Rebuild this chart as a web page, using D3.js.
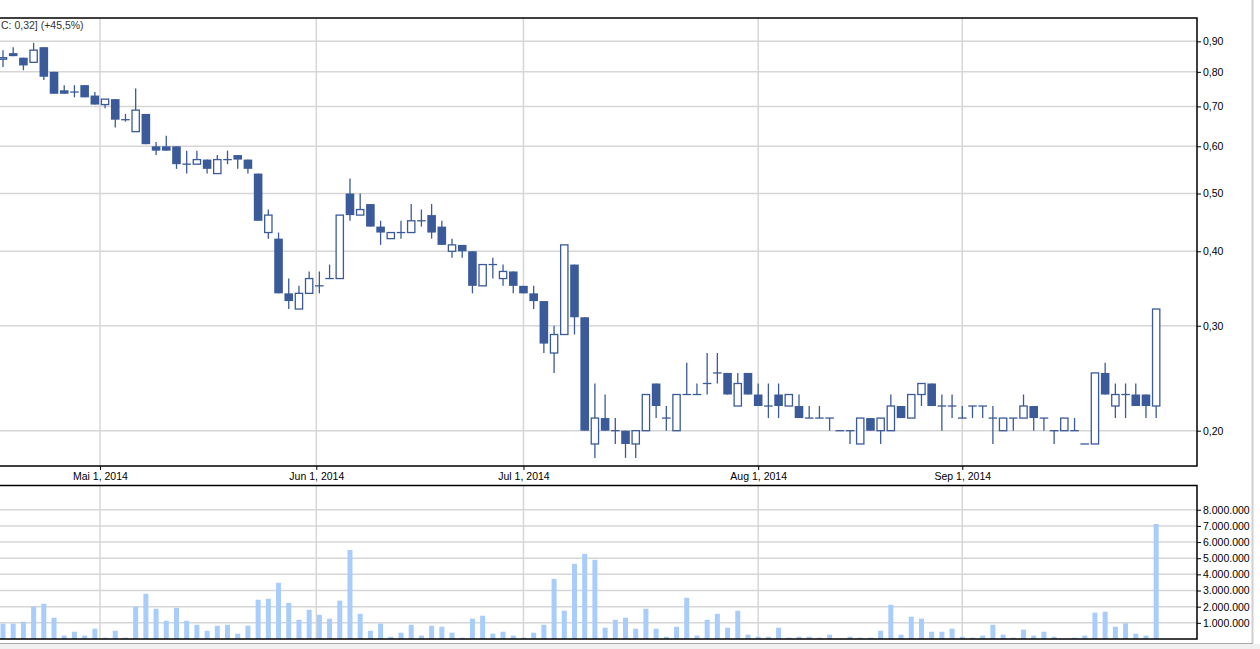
<!DOCTYPE html>
<html><head><meta charset="utf-8">
<script src="https://cdn.jsdelivr.net/npm/d3@7"></script>
<style>html,body{margin:0;padding:0;background:#fff;overflow:hidden}</style>
</head><body>
<svg id="chart" width="1260" height="649"></svg>
<script>
// ---- data (trading-day index 0..113) ----
const openP = [.84,.86,.845,.83,.88,.80,.745,.74,.76,.73,
 .705,.72,.665,.635,.68,.60,.60,.60,.56,.56,
 .57,.54,.57,.58,.57,.54,.43,.42,.34,.32,
 .34,.35,.36,.36,.50,.46,.48,.44,.42,.43,
 .43,.45,.46,.44,.40,.41,.40,.35,.38,.36,
 .37,.35,.34,.33,.27,.29,.38,.31,.19,.21,
 .20,.20,.19,.20,.24,.21,.20,.23,.23,.24,
 .25,.25,.22,.25,.23,.22,.23,.22,.22,.21,
 .21,.21,.20,.20,.19,.21,.20,.20,.22,.21,
 .23,.24,.22,.22,.21,.22,.22,.21,.20,.21,
 .21,.22,.21,.20,.20,.20,.19,.19,.25,.22,
 .23,.23,.23,.22];
const highP = [.87,.88,.845,.895,.88,.80,.76,.76,.76,.74,
 .72,.72,.68,.75,.68,.61,.625,.60,.59,.59,
 .57,.58,.59,.58,.57,.54,.47,.43,.36,.35,
 .37,.37,.38,.46,.53,.50,.48,.45,.43,.45,
 .48,.47,.48,.45,.42,.41,.40,.38,.39,.38,
 .37,.35,.35,.33,.30,.41,.38,.31,.24,.23,
 .21,.20,.20,.23,.24,.22,.23,.26,.24,.27,
 .27,.25,.25,.25,.24,.24,.24,.23,.23,.22,
 .22,.21,.20,.20,.21,.21,.21,.23,.22,.23,
 .24,.24,.23,.23,.22,.22,.22,.22,.21,.21,
 .23,.22,.21,.20,.21,.21,.19,.25,.26,.24,
 .24,.24,.23,.32];
const lowP = [.815,.85,.805,.83,.775,.735,.735,.725,.725,.705,
 .695,.645,.66,.635,.605,.58,.59,.55,.54,.56,
 .54,.54,.56,.55,.54,.45,.42,.34,.32,.32,
 .34,.34,.36,.36,.45,.46,.44,.41,.42,.42,
 .43,.44,.42,.41,.39,.39,.34,.35,.36,.35,
 .34,.34,.32,.27,.25,.29,.29,.20,.18,.20,
 .19,.18,.18,.20,.21,.20,.20,.23,.23,.23,
 .24,.23,.22,.23,.22,.21,.21,.22,.21,.21,
 .21,.20,.20,.19,.19,.20,.19,.20,.21,.21,
 .22,.22,.20,.21,.21,.21,.21,.19,.20,.20,
 .21,.20,.20,.19,.20,.20,.19,.19,.23,.21,
 .21,.22,.21,.21];
const closeP = [.845,.85,.82,.87,.785,.735,.735,.74,.725,.705,
 .72,.665,.665,.69,.605,.59,.59,.56,.56,.57,
 .55,.57,.57,.57,.55,.45,.46,.34,.33,.34,
 .36,.35,.36,.46,.46,.47,.44,.43,.43,.43,
 .45,.45,.43,.41,.41,.40,.35,.38,.38,.37,
 .35,.34,.33,.28,.29,.41,.31,.20,.21,.20,
 .20,.19,.20,.23,.22,.21,.23,.23,.23,.24,
 .25,.23,.24,.23,.22,.22,.22,.23,.21,.21,
 .21,.21,.20,.20,.21,.20,.21,.22,.21,.23,
 .24,.22,.22,.22,.21,.22,.22,.21,.21,.21,
 .22,.21,.21,.20,.21,.20,.19,.25,.23,.23,
 .23,.22,.22,.32];
const volumeM = [0.95,0.95,1.07,2.0,2.18,1.32,0.21,0.45,0.21,0.64,
 0.08,0.51,0.08,2.0,2.8,1.87,1.13,1.93,1.13,0.88,
 0.51,0.82,0.88,0.33,0.82,2.43,2.49,3.48,2.24,1.19,
 1.81,1.50,1.26,2.37,5.51,1.56,0.51,0.95,0.14,0.39,
 0.88,0.21,0.82,0.76,0.39,0.08,1.26,1.44,0.33,0.45,
 0.21,0.08,0.39,0.88,3.72,1.75,4.65,5.27,4.90,0.70,
 1.19,1.32,0.64,1.87,0.64,0.14,0.76,2.55,0.21,1.19,
 1.56,0.70,1.75,0.27,0.14,0.14,0.70,0.08,0.14,0.14,
 0.08,0.27,0.03,0.14,0.08,0.08,0.51,2.12,0.27,1.38,
 1.26,0.45,0.45,0.64,0.14,0.08,0.21,0.88,0.27,0.08,
 0.58,0.21,0.45,0.14,0.02,0.08,0.21,1.63,1.69,0.76,
 0.97,0.33,0.21,7.12];
const monthLabels = ["Mai 1, 2014","Jun 1, 2014","Jul 1, 2014","Aug 1, 2014","Sep 1, 2014"];
const monthIndex = [9.5, 30.7, 51, 74, 94];
const priceTicks = [0.2,0.3,0.4,0.5,0.6,0.7,0.8,0.9];
const volumeTicks = [1e6,2e6,3e6,4e6,5e6,6e6,7e6,8e6];
const legendText = "C: 0,32] (+45,5%)";

// ---- layout ----
const plotRight = 1197, priceTop = 18, priceBottom = 466, volTop = 485.5, volBottom = 639;
const candleColor = "#3b5a9a", volColor = "#a8cdfa", gridColor = "#d6d6d6";
const font = "'Liberation Sans', Arial, sans-serif";

const svg = d3.select("#chart");
const loc = d3.formatLocale({decimal: ",", thousands: ".", grouping: [3], currency: ["", ""]});
const fmtPrice = loc.format(".2f"), fmtVol = loc.format(",.0f");

const x = d3.scaleLinear().domain([-0.294, 117]).range([0, plotRight]);
const y = d3.scaleLog().domain([0.1745, 0.985]).range([priceBottom, priceTop]);
const yv = d3.scaleLinear().domain([0, 9.5e6]).range([volBottom, volTop]);

// frame of the window
svg.append("rect").attr("x", 0).attr("y", 644).attr("width", 1260).attr("height", 5).attr("fill", "#f0f0f0");
svg.append("line").attr("x1", 0).attr("x2", 1253).attr("y1", 643.5).attr("y2", 643.5).attr("stroke", "#a8a8a8");
svg.append("line").attr("x1", 1252.5).attr("x2", 1252.5).attr("y1", 0).attr("y2", 643).attr("stroke", "#cfcfcf").attr("stroke-width", 2);

// gridlines
const grid = svg.append("g");
grid.selectAll(".hp").data(priceTicks).join("line")
  .attr("x1", 0).attr("x2", plotRight)
  .attr("y1", d => y(d)).attr("y2", d => y(d))
  .attr("stroke", gridColor).attr("stroke-width", 1.5);
grid.selectAll(".hv").data(volumeTicks).join("line")
  .attr("x1", 0).attr("x2", plotRight)
  .attr("y1", d => yv(d)).attr("y2", d => yv(d))
  .attr("stroke", gridColor).attr("stroke-width", 1.5);
grid.selectAll(".vp").data(monthIndex).join("line")
  .attr("x1", d => x(d)).attr("x2", d => x(d))
  .attr("y1", priceTop).attr("y2", priceBottom)
  .attr("stroke", gridColor).attr("stroke-width", 1.5);
grid.selectAll(".vv").data(monthIndex).join("line")
  .attr("x1", d => x(d)).attr("x2", d => x(d))
  .attr("y1", volTop).attr("y2", volBottom)
  .attr("stroke", gridColor).attr("stroke-width", 1.5);

// volume bars
const idx = d3.range(openP.length);
svg.append("g").selectAll("rect").data(idx).join("rect")
  .attr("x", i => x(i) - 2.5).attr("width", 5)
  .attr("y", i => yv(volumeM[i] * 1e6))
  .attr("height", i => yv(0) - yv(volumeM[i] * 1e6))
  .attr("fill", volColor);

// candles
const cg = svg.append("g");
cg.selectAll("line.wick").data(idx).join("line").attr("class", "wick")
  .attr("x1", i => x(i)).attr("x2", i => x(i))
  .attr("y1", i => y(highP[i])).attr("y2", i => y(lowP[i]))
  .attr("stroke", candleColor).attr("stroke-width", 1.3);
const dojis = idx.filter(i => openP[i] === closeP[i]);
const downs = idx.filter(i => closeP[i] < openP[i]);
const ups = idx.filter(i => closeP[i] > openP[i]);
cg.selectAll("line.doji").data(dojis).join("line").attr("class", "doji")
  .attr("x1", i => x(i) - 4.3).attr("x2", i => x(i) + 4.3)
  .attr("y1", i => y(closeP[i])).attr("y2", i => y(closeP[i]))
  .attr("stroke", candleColor).attr("stroke-width", 1.3);
cg.selectAll("rect.down").data(downs).join("rect").attr("class", "down")
  .attr("x", i => x(i) - 4.3).attr("width", 8.6)
  .attr("y", i => y(openP[i])).attr("height", i => Math.max(1, y(closeP[i]) - y(openP[i])))
  .attr("fill", candleColor);
cg.selectAll("rect.up").data(ups).join("rect").attr("class", "up")
  .attr("x", i => x(i) - 3.65).attr("width", 7.3)
  .attr("y", i => y(closeP[i])).attr("height", i => Math.max(0.5, y(openP[i]) - y(closeP[i])))
  .attr("fill", "#fff").attr("stroke", candleColor).attr("stroke-width", 1.3);

// borders
const border = svg.append("g").attr("stroke", "#000").attr("stroke-width", 1.5).attr("fill", "none");
border.append("path").attr("d", `M0,${priceTop}H${plotRight}V${priceBottom}H0`);
border.append("path").attr("d", `M0,${volTop}H${plotRight}V${volBottom}H0`);

// right axes
const pAxis = svg.append("g").attr("transform", `translate(${plotRight},0)`)
  .call(d3.axisRight(y).tickValues(priceTicks).tickFormat(fmtPrice).tickSize(4).tickPadding(2));
const vAxis = svg.append("g").attr("transform", `translate(${plotRight},0)`)
  .call(d3.axisRight(yv).tickValues(volumeTicks).tickFormat(fmtVol).tickSize(4).tickPadding(2));
[pAxis, vAxis].forEach(a => {
  a.select(".domain").remove();
  a.selectAll("text").attr("font-family", font).attr("font-size", "10.5px").attr("fill", "#000");
  a.selectAll("line").attr("stroke", "#000");
});

// x axis (month labels)
const xAxis = svg.append("g").attr("transform", `translate(0,${priceBottom})`)
  .call(d3.axisBottom(x).tickValues(monthIndex).tickFormat((d, i) => monthLabels[i]).tickSize(4).tickPadding(3));
xAxis.select(".domain").remove();
xAxis.selectAll("text").attr("font-family", font).attr("font-size", "10.5px").attr("fill", "#000");
xAxis.selectAll("line").attr("stroke", "#000");

// legend fragment
svg.append("text").attr("x", 1).attr("y", 29).attr("text-anchor", "start")
  .attr("font-family", font).attr("font-size", "10.5px").attr("fill", "#333").text(legendText);
</script>
</body></html>
